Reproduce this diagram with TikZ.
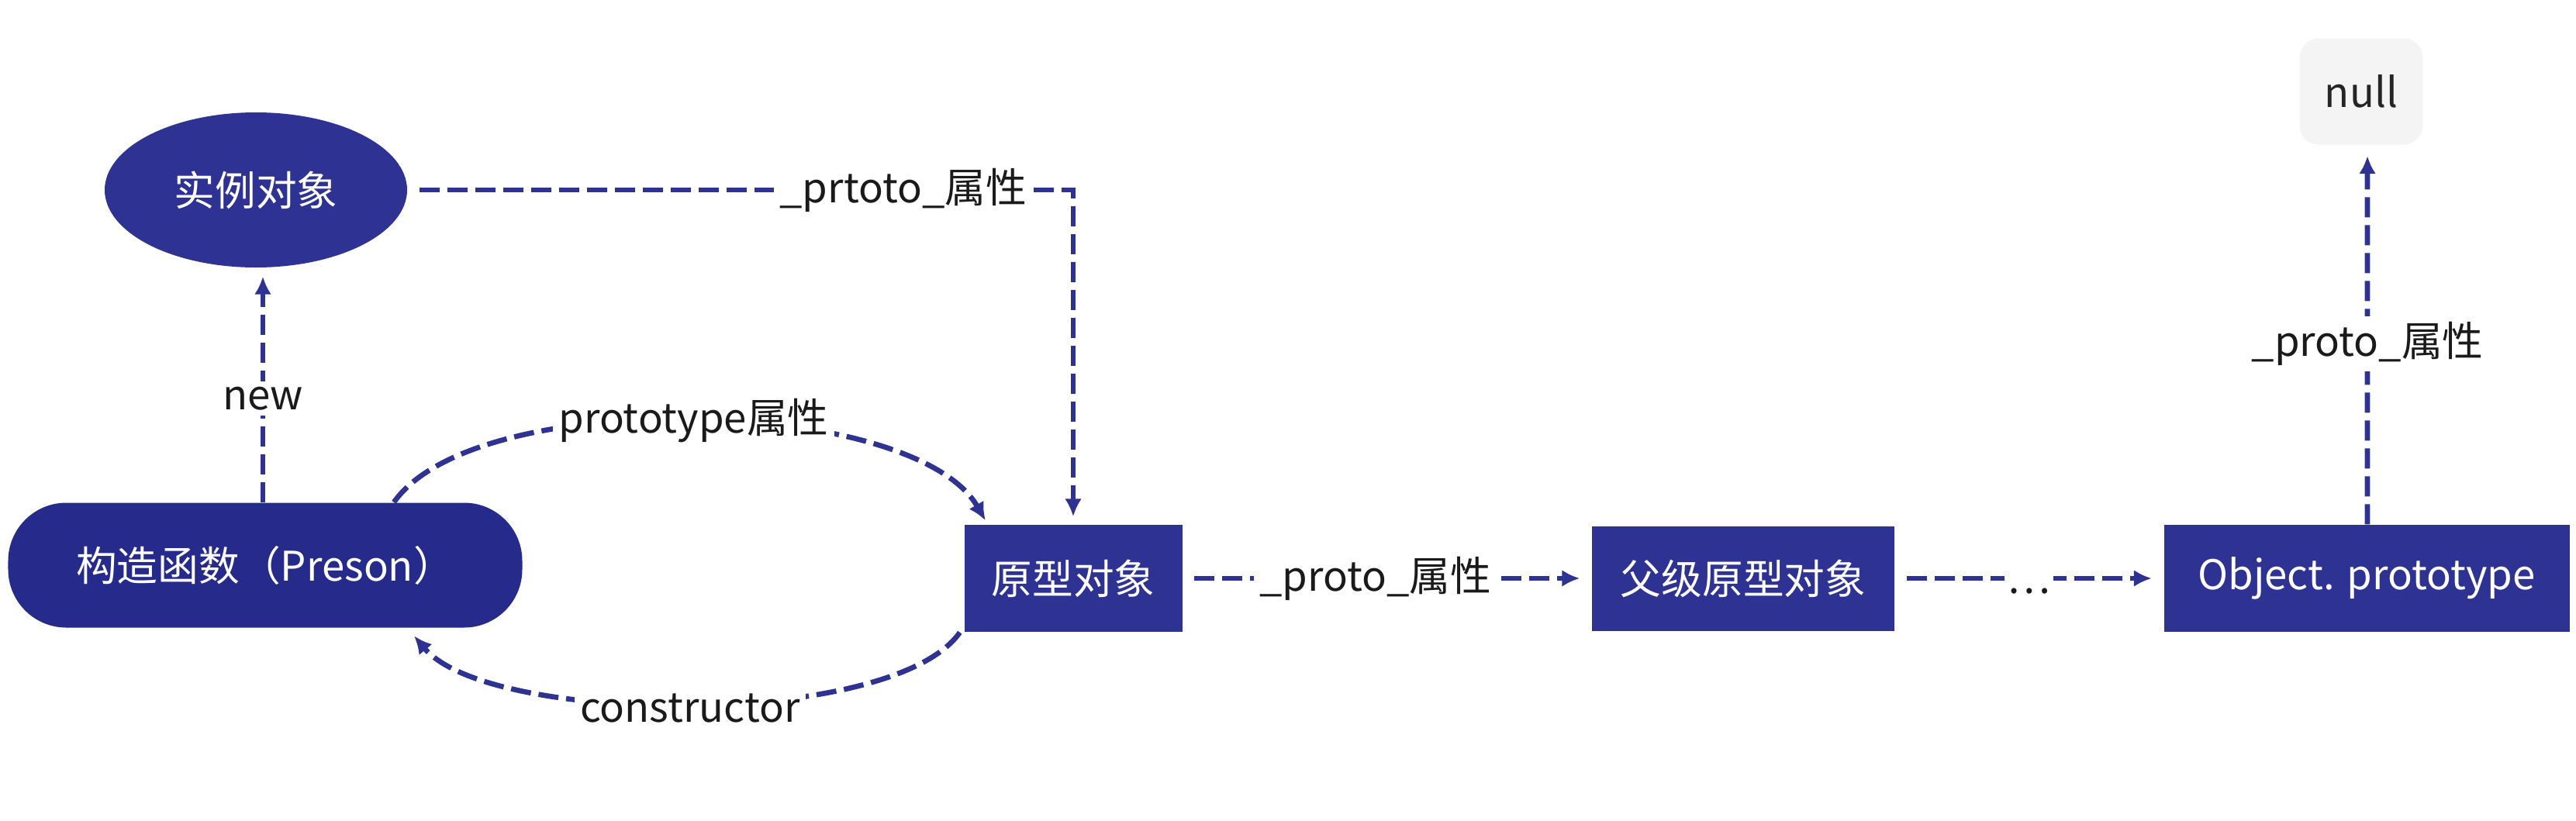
\documentclass[tikz,border=0pt]{standalone}
\usepackage{fontspec}
\setmainfont{Noto Sans CJK SC}
\usepackage{tikz}
\usetikzlibrary{arrows.meta, shapes.geometric}
\definecolor{my_navy}{HTML}{2E3292}
\definecolor{my_darknavy}{HTML}{262A8B}
\definecolor{my_lightgray}{HTML}{F4F4F4}
\definecolor{my_black}{HTML}{1A1A1A}

\begin{document}
\begin{tikzpicture}[
    font=\fontsize{15pt}{18pt}\selectfont,
    objbox/.style={fill=my_navy, text=white, inner sep=0pt},
    link/.style={draw=my_navy, line width=1.9pt, dash pattern=on 0.26cm off 0.1cm,
        -{Latex[length=0.23cm, width=0.22cm]}},
    lbl/.style={fill=white, text=my_black, inner sep=2pt}
]
\useasboundingbox (0,0) rectangle (33.22,10.58);

% ================================================================
% 节点
% ================================================================

% 实例对象与构造函数
\node[objbox, ellipse, minimum width=3.9cm, minimum height=2.0cm] (inst)
    at (3.30, 8.13) {实例对象};
\node[objbox, fill=my_darknavy, rounded corners=0.75cm,
    minimum width=6.63cm, minimum height=1.61cm] (ctor)
    at (3.42, 3.29) {构造函数（Preson）};

% 原型链
\node[objbox, minimum width=2.81cm, minimum height=1.38cm] (proto)
    at (13.84, 3.12) {原型对象};
\node[objbox, minimum width=3.90cm, minimum height=1.35cm] (parent)
    at (22.48, 3.12) {父级原型对象};
\node[objbox, minimum width=5.23cm, minimum height=1.38cm] (objproto)
    at (30.52, 3.12) {Object. prototype};
\node[fill=my_lightgray, text=my_black!95, rounded corners=0.25cm,
    minimum width=1.59cm, minimum height=1.37cm] (nullbox)
    at (30.45, 9.40) {null};

% ================================================================
% 连线
% ================================================================

% new
\draw[link] ([xshift=-0.03cm]ctor.north) -- node[lbl, pos=0.46] {new}
    ([xshift=0.09cm, yshift=-0.11cm]inst.south);

% 实例对象 -> 原型对象
\draw[link] ([xshift=0.15cm]inst.east) -| node[lbl, pos=0.37] {\_prtoto\_属性}
    ([yshift=0.1cm]proto.north);

% prototype 与 constructor
\draw[link] ([xshift=1.66cm]ctor.north) to[out=55, in=120, looseness=0.62]
    node[lbl] {prototype属性} ([xshift=0.28cm, yshift=0.05cm]proto.north west);
\draw[link] ([xshift=-0.05cm]proto.south west) to[out=235, in=-50, looseness=0.55]
    node[lbl, yshift=-0.05cm] {constructor} ([xshift=1.92cm, yshift=-0.1cm]ctor.south);

% 原型链向上
\draw[link] ([xshift=0.15cm]proto.east) -- node[lbl, pos=0.47] {\_proto\_属性}
    ([xshift=-0.15cm]parent.west);
\draw[link] ([xshift=0.15cm]parent.east) -- node[lbl, inner sep=1pt, text height=0.3cm,
    text depth=0pt, yshift=-0.04cm] {\dots} ([xshift=-0.15cm]objproto.west);
\draw[link] ([xshift=0.01cm]objproto.north) -- node[lbl, pos=0.49] {\_proto\_属性}
    ([xshift=0.08cm, yshift=-0.14cm]nullbox.south);

\end{tikzpicture}
\end{document}
